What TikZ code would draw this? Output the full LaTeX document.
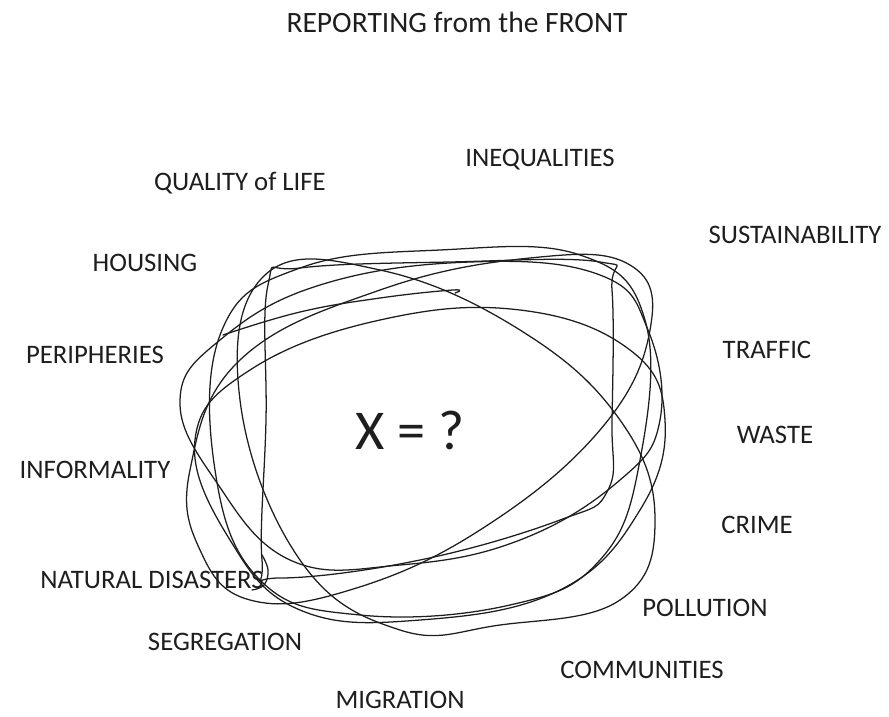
\documentclass[tikz,border=0pt]{standalone}
\usepackage{fontspec}
\setmainfont{Carlito}
\definecolor{inkcol}{RGB}{30,30,30}
\tikzset{every picture/.style={x=0.025cm,y=-0.025cm}}
\tikzset{topic/.style={inkcol,inner sep=0pt,font=\fontsize{19}{22}\selectfont}}
\tikzset{heading/.style={inkcol,inner sep=0pt,font=\fontsize{21}{25}\selectfont}}
\tikzset{unknown/.style={inkcol,inner sep=0pt,font=\fontsize{40}{46}\selectfont}}
\tikzset{scribble/.style={inkcol,line width=0.9pt,line cap=round,line join=round}}

\begin{document}
\begin{tikzpicture}
\useasboundingbox (0,0) rectangle (889,717);
\node [heading] (title) at (457, 22) {REPORTING from the FRONT};
% loops round the unknown
\draw [scribble] plot [smooth cycle, tension=0.7] coordinates {(268,285) (300,268) (450,262) (600,262) (612,290) (612,420) (608,490) (560,520) (420,560) (280,578) (262,560) (266,420)};
\draw [scribble] plot [smooth cycle, tension=0.7] coordinates {(180,400) (220,340) (320,285) (470,262) (600,275) (648,330) (660,420) (620,480) (520,540) (400,565) (290,560) (215,480)};
\draw [scribble] plot [smooth cycle, tension=0.7] coordinates {(222,330) (300,268) (440,250) (580,255) (645,320) (640,460) (600,560) (510,605) (360,615) (260,580) (215,470)};
\draw [scribble] plot [smooth cycle, tension=0.7] coordinates {(265,275) (380,270) (520,330) (620,420) (655,520) (620,600) (500,625) (400,630) (300,560) (240,400)};
\draw [scribble] plot [smooth cycle, tension=0.7] coordinates {(190,470) (240,360) (380,290) (530,258) (630,265) (650,330) (600,430) (480,530) (350,590) (250,600) (200,550)};
\draw [scribble] plot [smooth cycle, tension=0.7] coordinates {(195,440) (250,370) (380,320) (520,310) (630,350) (665,420) (640,510) (560,590) (420,620) (300,610) (230,540)};
\draw [scribble] plot [smooth, tension=0.7] coordinates {(223,335) (300,312) (380,298) (453,290) (455,293)};
\draw [scribble] plot [smooth, tension=0.7] coordinates {(262,555) (268,570) (264,585) (252,590)};
\node [unknown] (x) at (410, 430) {X = ?};
% topics round the loops
\node [topic] (quality) at (240, 183) {QUALITY of LIFE};
\node [topic] (inequal) at (540, 160) {INEQUALITIES};
\node [topic] (sustain) at (795, 235) {SUSTAINABILITY};
\node [topic] (housing) at (145, 263) {HOUSING};
\node [topic] (periph) at (95, 355) {PERIPHERIES};
\node [topic] (traffic) at (767, 350) {TRAFFIC};
\node [topic] (waste) at (775, 435) {WASTE};
\node [topic] (informal) at (95, 470) {INFORMALITY};
\node [topic] (crime) at (757, 525) {CRIME};
\node [topic] (natural) at (152, 580) {NATURAL DISASTERS};
\node [topic] (pollution) at (705, 608) {POLLUTION};
\node [topic] (segreg) at (225, 642) {SEGREGATION};
\node [topic] (commun) at (642, 670) {COMMUNITIES};
\node [topic] (migration) at (400, 700) {MIGRATION};
\end{tikzpicture}
\end{document}
